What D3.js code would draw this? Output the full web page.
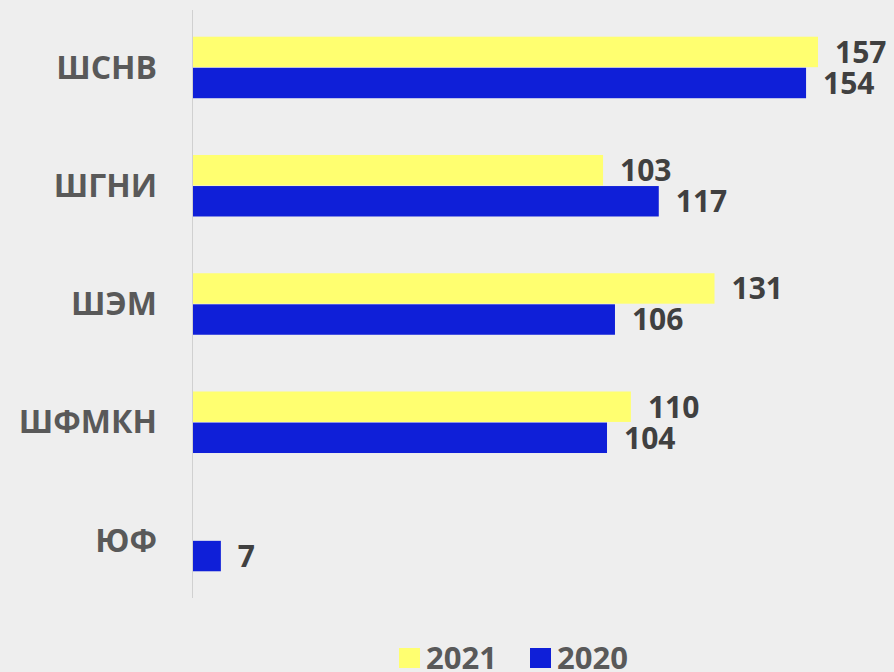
<!DOCTYPE html>
<html>
<head>
<meta charset="utf-8">
<script src="https://cdn.jsdelivr.net/npm/d3@7"></script>
<style>
  body { margin: 0; background: #eeeeee; }
  svg { display: block; font-family: "Open Sans", sans-serif; }
</style>
</head>
<body>
<svg width="894" height="672"></svg>
<script>
// data
var categories = ["ШСНВ", "ШГНИ", "ШЭМ", "ШФМКН", "ЮФ"];
var series = ["2021", "2020"];
var values2021 = [157, 103, 131, 110, null];
var values2020 = [154, 117, 106, 104, 7];
var colors = ["#ffff70", "#0f1fd8"];

var svg = d3.select("svg"),
    width = +svg.attr("width"),
    height = +svg.attr("height");

svg.append("rect").attr("width", width).attr("height", height).attr("fill", "#eeeeee");

var x = d3.scaleLinear().domain([0, 157]).range([193, 818]);

var y = d3.scaleBand()
    .domain(categories)
    .range([10, 598])
    .paddingInner(0.48)
    .paddingOuter(0.226);

var y1 = d3.scaleBand().domain(series).range([0, y.bandwidth()]).paddingInner(0.02);

var data = [];
categories.forEach(function(c, i) {
    [values2021[i], values2020[i]].forEach(function(v, k) {
        if (v != null) data.push({cat: c, s: series[k], v: v, k: k});
    });
});

// vertical axis line
svg.append("line")
    .attr("x1", x(0) - 0.5).attr("x2", x(0) - 0.5)
    .attr("y1", y.range()[0]).attr("y2", y.range()[1])
    .attr("stroke", "#d0d0d0").attr("stroke-width", 1);

// category labels
svg.append("g").selectAll("text")
    .data(categories)
    .enter().append("text")
    .attr("x", 157)
    .attr("y", function(d) { return y(d) + y.bandwidth() / 2; })
    .attr("dy", "0.35em")
    .attr("text-anchor", "end")
    .style("font-size", "32px")
    .style("font-weight", "bold")
    .style("fill", "#595959")
    .text(function(d) { return d; });

var bar = svg.append("g").selectAll("g")
    .data(data)
    .enter().append("g");

bar.append("rect")
    .attr("x", x(0))
    .attr("y", function(d) { return y(d.cat) + y1(d.s); })
    .attr("width", function(d) { return x(d.v) - x(0); })
    .attr("height", y1.bandwidth())
    .attr("fill", function(d) { return colors[d.k]; });

bar.append("text")
    .attr("x", function(d) { return x(d.v) + 17; })
    .attr("y", function(d) { return y(d.cat) + y1(d.s) + y1.bandwidth() / 2; })
    .attr("dy", "0.36em")
    .style("font-size", "30px")
    .style("font-weight", "bold")
    .style("fill", "#404040")
    .text(function(d) { return d.v; });

// legend
var legend = svg.append("g").attr("transform", "translate(399,648)");
var lx = [0, 131];
series.forEach(function(s, i) {
    legend.append("rect")
        .attr("x", lx[i]).attr("y", 0)
        .attr("width", 21).attr("height", 20)
        .attr("fill", colors[i]);
    legend.append("text")
        .attr("x", lx[i] + 27).attr("y", 21)
        .style("font-size", "31px")
        .style("font-weight", "bold")
        .style("fill", "#595959")
        .text(s);
});
</script>
</body>
</html>
